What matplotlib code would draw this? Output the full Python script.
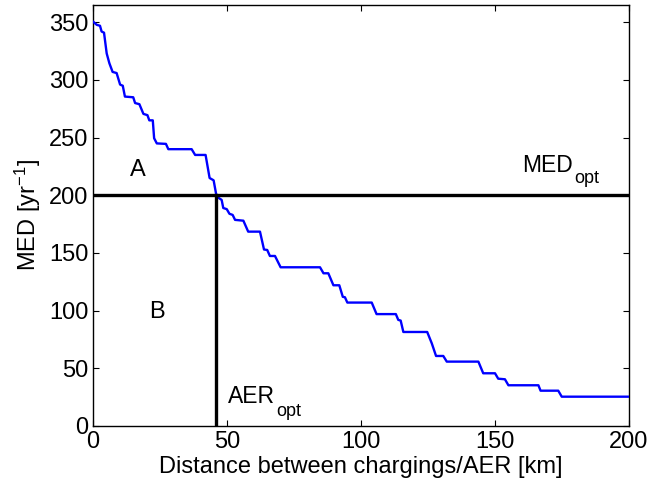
#! /usr/bin/env python3

import matplotlib
matplotlib.use('Agg')
import matplotlib.pyplot as plt

# MED curve (km, yr^-1)
aer = [0, 1.4, 2.6, 3.2, 4.1, 5.1, 6.1, 7.3, 8.8, 10.1, 11.1, 11.9, 15.0, 15.7,
       17.3, 18.8, 20.3, 21.0, 22.3, 22.8, 23.8, 27.2, 28.1, 36.8, 38.1, 42.0,
       43.5, 45.0, 46.1, 48.0, 48.6, 49.9, 50.9, 52.1, 53.0, 56.1, 57.9, 62.3,
       63.8, 65.0, 66.0, 67.9, 70.0, 84.7, 86.0, 87.8, 89.7, 91.9, 93.2, 94.0,
       94.9, 104.0, 105.8, 113.0, 113.9, 114.8, 115.8, 124.7, 126.4, 128.0,
       130.7, 132.0, 143.8, 145.6, 150.0, 151.2, 153.7, 155.0, 166.2, 167.0,
       173.6, 174.9, 200.0]
med = [350.6, 347.8, 347, 342, 341, 323, 314.5, 307, 306, 296, 295, 285.6, 285,
       280, 279, 270.6, 269.5, 265, 265, 249.5, 245, 244.6, 240, 240, 235, 235,
       215, 213, 199, 196, 189, 188, 184, 183, 178.7, 178, 168.5, 168.5,
       153, 152.6, 147.4, 147.4, 137.6, 137.6, 132.4, 132.4, 122, 122, 112, 111.6,
       107, 107, 97, 97, 92, 91.4, 81.5, 81.5, 71.7, 60.7,
       60.7, 55.8, 55.8, 45.7, 45.7, 41, 40.5, 35.3, 35.3, 30.6,
       30.6, 25.4, 25.4]

aer_opt = 46
med_opt = 200

plt.rcParams['font.family'] = ['Liberation Sans', 'DejaVu Sans']
plt.rcParams['mathtext.fontset'] = 'custom'
plt.rcParams['mathtext.rm'] = 'Liberation Sans'
plt.rcParams['mathtext.it'] = 'Liberation Sans'
plt.rcParams['font.size'] = 17

fig = plt.figure(figsize=(6.51, 4.86), dpi=100)
ax = fig.add_axes([0.1429, 0.1235, 0.8233, 0.8662])

ax.plot(aer, med, color='#0000ff', linewidth=1.7, zorder=3)
ax.plot([0, 200], [med_opt, med_opt], color='k', linewidth=2.4, zorder=4)
ax.plot([aer_opt, aer_opt], [0, med_opt], color='k', linewidth=2.4, zorder=4)

ax.text(16.8, 222, 'A', ha='center', va='center')
ax.text(23.9, 99, 'B', ha='center', va='center')

# labels with matlab-like (lower) subscripts
t1 = ax.text(160, 220.6, 'MED', ha='left', va='baseline', fontsize=16.5)
ax.annotate('opt', xy=(1, 0), xycoords=t1, xytext=(1, -4.5),
            textcoords='offset points', ha='left', va='baseline', fontsize=13)
t2 = ax.text(50.2, 20, 'AER', ha='left', va='baseline', fontsize=16.5)
ax.annotate('opt', xy=(1, 0), xycoords=t2, xytext=(1, -5.5),
            textcoords='offset points', ha='left', va='baseline', fontsize=13)

ax.set_xlim(0, 200)
ax.set_ylim(0, 365)
ax.set_xticks([0, 50, 100, 150, 200])
ax.set_yticks(range(0, 351, 50))
ax.tick_params(direction='in', top=True, right=True, length=4, width=0.8)
for s in ax.spines.values():
    s.set_linewidth(1.0)

ax.set_xlabel('Distance between chargings/AER [km]', labelpad=2)
ax.set_ylabel(r'MED [yr$^{-1}$]', labelpad=4)

fig.savefig('out.png', dpi=100)
